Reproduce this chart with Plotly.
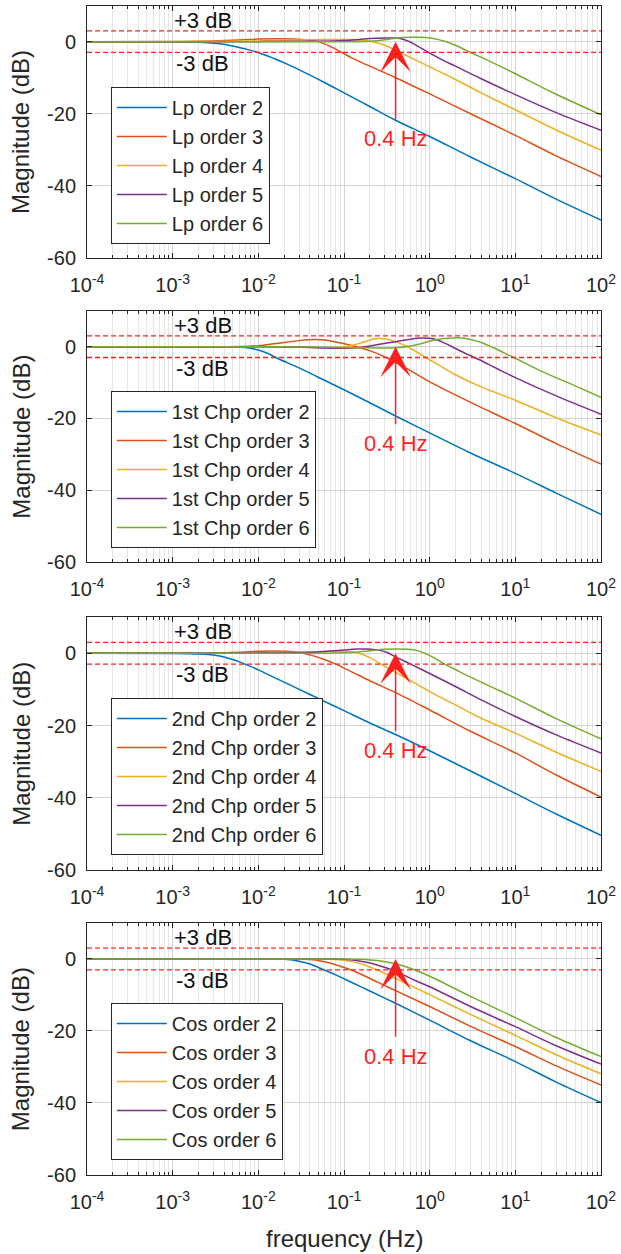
import math
import plotly.graph_objects as go
from plotly.subplots import make_subplots

# ---------------- data ----------------
ORDERS = [2, 3, 4, 5, 6]
PANEL_NAMES = ["Lp", "1st Chp", "2nd Chp", "Cos"]
COLORS = ["#0072BD", "#D95319", "#EDB120", "#7E2F8E", "#77AC30"]

XTICK_HZ = [1e-4, 1e-3, 1e-2, 1e-1, 1e0, 1e1, 1e2]
XTICK_TEXT = ["10<sup>-4</sup>", "10<sup>-3</sup>", "10<sup>-2</sup>", "10<sup>-1</sup>",
              "10<sup>0</sup>", "10<sup>1</sup>", "10<sup>2</sup>"]
YTICK_DB = [-60, -40, -20, 0]
YTICK_TEXT = ["-60", "-40", "-20", "0"]
BAND_DB = [3, -3]
BAND_TEXT = ["+3 dB", "-3 dB"]
BAND_TEXT_DB = [6, -6]
BAND_TEXT_HZ = 0.00223
ARROW_HZ = 0.4
ARROW_FROM_DB = -22
ARROW_TO_DB = 0
ARROW_TEXT = "0.4 Hz"
ARROW_TEXT_DB = -27

# Panel 1: Lp
lp2_hz = [1e-4, 1e-3, 2e-3, 3.5e-3, 5e-3, 7e-3, 1e-2, 1.5e-2, 2.2e-2, 3.5e-2, 6e-2, 1e-1, 2e-1, 4e-1, 1, 3, 10, 30, 100]
lp2_db = [0, -0.06, -0.2, -0.6, -1.2, -2.0, -3.0, -4.6, -6.3, -8.6, -11.4, -14.2, -18.0, -21.8, -26.3, -32.0, -38.0, -43.7, -49.5]
lp3_hz = [1e-4, 1e-3, 3e-3, 6e-3, 1e-2, 1.6e-2, 2.5e-2, 3.5e-2, 5e-2, 7e-2, 9.4e-2, 1.3e-1, 2e-1, 4e-1, 1, 3, 10, 30, 100]
lp3_db = [0, 0.05, 0.2, 0.45, 0.7, 0.8, 0.75, 0.5, 0.0, -1.4, -3.0, -4.8, -6.8, -10.0, -14.5, -20.0, -26.0, -31.7, -37.4]
lp4_hz = [1e-4, 3e-3, 1e-2, 3e-2, 6e-2, 1e-1, 1.5e-1, 2e-1, 3e-1, 4.5e-1, 7e-1, 1, 2, 4, 10, 30, 100]
lp4_db = [0, 0.05, 0.2, 0.45, 0.6, 0.6, 0.45, 0.1, -1.0, -3.0, -5.2, -7.0, -10.5, -14.2, -18.9, -24.5, -30.1]
lp5_hz = [1e-4, 1e-2, 5e-2, 1e-1, 1.5e-1, 2e-1, 3e-1, 4e-1, 5e-1, 6.5e-1, 1, 1.5, 2, 4, 10, 30, 100]
lp5_db = [0, 0.0, 0.1, 0.3, 0.6, 0.85, 1.0, 1.0, 0.6, -0.6, -3.2, -5.4, -6.8, -10.3, -14.7, -19.7, -24.6]
lp6_hz = [1e-4, 1e-2, 5e-2, 1e-1, 2e-1, 3e-1, 4e-1, 6e-1, 8e-1, 1.1, 1.5, 2, 3, 5, 10, 30, 100]
lp6_db = [0, 0, 0, -0.05, 0.1, 0.5, 0.95, 1.2, 1.2, 0.9, 0.1, -1.0, -3.0, -5.4, -8.9, -14.6, -20.3]

# Panel 2: 1st Chp
c1o2_hz = [1e-4, 2e-3, 5e-3, 7e-3, 1e-2, 1.3e-2, 1.6e-2, 2.2e-2, 3e-2, 5e-2, 1e-1, 2e-1, 4e-1, 1, 3, 10, 30, 100]
c1o2_db = [0, 0, -0.05, -0.2, -0.9, -1.9, -3.0, -4.5, -5.9, -8.5, -12.0, -15.6, -19.3, -24.0, -29.6, -35.3, -40.8, -46.7]
c1o3_hz = [1e-4, 3e-3, 6e-3, 1e-2, 1.5e-2, 2e-2, 3e-2, 4.5e-2, 6e-2, 8e-2, 1.1e-1, 1.4e-1, 2e-1, 3.1e-1, 5e-1, 1, 3, 10, 30, 100]
c1o3_db = [0, 0, 0.05, 0.3, 0.8, 1.2, 1.7, 2.0, 1.85, 1.3, 0.6, 0.0, -1.1, -3.0, -5.6, -9.8, -15.5, -21.4, -27.0, -32.7]
c1o4_hz = [1e-4, 1e-2, 3e-2, 6e-2, 1e-1, 1.3e-1, 1.7e-1, 2.3e-1, 3.2e-1, 4.2e-1, 5.5e-1, 7e-1, 9e-1, 1.3, 2, 4, 10, 30, 100]
c1o4_db = [0, 0, -0.15, -0.3, -0.05, 0.5, 1.3, 2.2, 2.1, 1.2, 0.0, -1.4, -3.0, -5.2, -7.8, -11.2, -14.9, -19.8, -24.6]
c1o5_hz = [1e-4, 1e-2, 3e-2, 6e-2, 1e-1, 1.4e-1, 1.75e-1, 2.5e-1, 4e-1, 6e-1, 8e-1, 1.1, 1.5, 2, 2.8, 3.7, 6, 10, 30, 100]
c1o5_db = [0, 0, -0.1, -0.35, -0.45, -0.3, 0.0, 0.6, 1.4, 2.1, 2.4, 2.2, 1.0, -0.5, -2.2, -3.5, -6.0, -8.6, -13.7, -18.8]
c1o6_hz = [1e-4, 1e-2, 5e-2, 1e-1, 2e-1, 4e-1, 6e-1, 8e-1, 1.1, 1.5, 2.2, 3, 4, 5.6, 7.5, 9.6, 20, 50, 100]
c1o6_db = [0, 0, -0.1, -0.2, -0.3, -0.3, 0.2, 0.9, 1.8, 2.3, 2.5, 2.0, 1.2, -0.3, -1.8, -3.0, -6.8, -10.9, -14.1]

# Panel 3: 2nd Chp
c2o2_hz = [1e-4, 1e-3, 2e-3, 3e-3, 4.5e-3, 7e-3, 1e-2, 1.5e-2, 2e-2, 3e-2, 5e-2, 1e-1, 2e-1, 4e-1, 1, 3, 10, 30, 100]
c2o2_db = [0, -0.05, -0.2, -0.5, -1.4, -3.0, -4.6, -6.6, -8.0, -10.0, -12.5, -15.9, -19.3, -22.5, -27.0, -32.6, -38.8, -44.5, -50.4]
c2o3_hz = [1e-4, 3e-3, 6e-3, 1e-2, 1.5e-2, 2.2e-2, 3e-2, 4.5e-2, 6e-2, 8e-2, 1.2e-1, 2e-1, 4e-1, 1, 3, 10, 30, 100]
c2o3_db = [0, 0.1, 0.3, 0.55, 0.65, 0.55, 0.2, -0.8, -1.8, -3.0, -5.0, -7.6, -10.9, -15.7, -21.6, -27.6, -33.7, -39.8]
c2o4_hz = [1e-4, 1e-2, 3e-2, 6e-2, 1e-1, 1.3e-1, 1.6e-1, 2e-1, 2.7e-1, 4e-1, 6e-1, 1, 2, 4, 10, 30, 100]
c2o4_db = [0, 0.1, 0.3, 0.5, 0.5, 0.3, -0.2, -1.2, -3.0, -5.3, -7.6, -10.6, -14.3, -18.0, -22.1, -27.4, -32.7]
c2o5_hz = [1e-4, 1e-2, 3e-2, 6e-2, 1e-1, 1.4e-1, 1.9e-1, 2.5e-1, 3.2e-1, 4e-1, 6e-1, 1, 2, 4, 10, 30, 100]
c2o5_db = [0, 0.05, 0.2, 0.5, 0.9, 1.15, 1.2, 0.9, 0.2, -1.0, -3.0, -5.6, -9.2, -12.9, -17.5, -22.6, -27.6]
c2o6_hz = [1e-4, 3e-2, 8e-2, 1.3e-1, 2e-1, 3e-1, 4e-1, 5.5e-1, 7e-1, 9e-1, 1.2, 1.5, 2, 3, 5, 10, 30, 100]
c2o6_db = [0, 0, 0.05, 0.3, 0.7, 1.1, 1.2, 1.1, 0.8, -0.1, -1.6, -3.0, -4.5, -6.6, -9.1, -12.4, -18.1, -23.7]

# Panel 4: Cos
cos2_hz = [1e-4, 1e-2, 2e-2, 2.8e-2, 4e-2, 5.8e-2, 8e-2, 1.2e-1, 2e-1, 4e-1, 1, 3, 10, 30, 100]
cos2_db = [0, 0, -0.1, -0.5, -1.4, -3.0, -4.4, -6.4, -8.9, -12.3, -17.0, -22.7, -28.5, -34.2, -39.9]
cos3_hz = [1e-4, 2e-2, 3.5e-2, 5e-2, 7e-2, 9e-2, 1.2e-1, 1.7e-1, 2.5e-1, 4e-1, 1, 3, 10, 30, 100]
cos3_db = [0, 0, -0.1, -0.4, -1.2, -2.0, -3.0, -4.6, -6.5, -8.8, -13.2, -18.7, -24.3, -29.7, -35.0]
cos4_hz = [1e-4, 4e-2, 7e-2, 1e-1, 1.3e-1, 1.7e-1, 2.4e-1, 3.2e-1, 4e-1, 6e-1, 1, 3, 10, 30, 100]
cos4_db = [0, 0, -0.1, -0.35, -0.8, -1.6, -3.0, -4.3, -5.4, -7.4, -9.9, -15.4, -21.2, -26.6, -31.9]
cos5_hz = [1e-4, 6e-2, 1e-1, 1.4e-1, 1.9e-1, 2.6e-1, 3.6e-1, 5e-1, 7e-1, 1, 3, 10, 30, 100]
cos5_db = [0, 0, -0.1, -0.4, -1.0, -1.9, -3.0, -4.5, -6.1, -7.7, -13.2, -18.8, -24.1, -29.2]
cos6_hz = [1e-4, 1e-1, 1.5e-1, 2e-1, 2.8e-1, 4e-1, 5.2e-1, 6.6e-1, 1, 1.5, 3, 10, 30, 100]
cos6_db = [0, 0, -0.1, -0.25, -0.6, -1.3, -2.1, -3.0, -4.8, -6.8, -10.4, -16.3, -21.8, -27.1]

PANELS = [
    [(lp2_hz, lp2_db), (lp3_hz, lp3_db), (lp4_hz, lp4_db), (lp5_hz, lp5_db), (lp6_hz, lp6_db)],
    [(c1o2_hz, c1o2_db), (c1o3_hz, c1o3_db), (c1o4_hz, c1o4_db), (c1o5_hz, c1o5_db), (c1o6_hz, c1o6_db)],
    [(c2o2_hz, c2o2_db), (c2o3_hz, c2o3_db), (c2o4_hz, c2o4_db), (c2o5_hz, c2o5_db), (c2o6_hz, c2o6_db)],
    [(cos2_hz, cos2_db), (cos3_hz, cos3_db), (cos4_hz, cos4_db), (cos5_hz, cos5_db), (cos6_hz, cos6_db)],
]

# ---------------- layout constants ----------------
W, H = 621, 1254
ML, MR, MT, MB = 87, 17, 5, 79
PLOT_H = H - MT - MB
Y_DOMAINS = [[0.7838, 0.9995], [0.5239, 0.7386], [0.2607, 0.4768], [0.0, 0.2154]]
LEGEND_TOP = [0.9299, 0.6701, 0.4077, 0.1470]
LEGEND_X = 0.0464
FONT = "Liberation Sans, Arial, sans-serif"
TXT = "#262626"
RED = "#ff1f1f"

fig = make_subplots(rows=4, cols=1)

for p, series in enumerate(PANELS):
    leg = "legend" if p == 0 else f"legend{p + 1}"
    for k, (hz, db) in enumerate(series):
        fig.add_trace(go.Scatter(
            x=hz, y=db, mode="lines",
            name=f"{PANEL_NAMES[p]} order {ORDERS[k]}",
            line=dict(color=COLORS[k], width=1.5, shape="spline", smoothing=0.9),
            legend=leg, hoverinfo="skip"), row=p + 1, col=1)

layout = dict(
    width=W, height=H,
    margin=dict(l=ML, r=MR, t=MT, b=MB),
    paper_bgcolor="white", plot_bgcolor="white",
    font=dict(family=FONT, color=TXT, size=20),
    shapes=[], annotations=[],
)

for p in range(4):
    xa = "xaxis" if p == 0 else f"xaxis{p + 1}"
    ya = "yaxis" if p == 0 else f"yaxis{p + 1}"
    xr = "x" if p == 0 else f"x{p + 1}"
    yr = "y" if p == 0 else f"y{p + 1}"
    layout[xa] = dict(
        type="log", range=[math.log10(XTICK_HZ[0]), math.log10(XTICK_HZ[-1])],
        tickvals=XTICK_HZ, ticktext=XTICK_TEXT, ticks="inside", ticklen=5,
        tickcolor=TXT, showline=True, linecolor=TXT, linewidth=1, mirror="ticks",
        showgrid=True, gridcolor="#d4d4d4", gridwidth=1,
        minor=dict(dtick="D1", showgrid=True, gridcolor="#e6e6e6", gridwidth=1,
                   ticks="inside", ticklen=3, tickcolor=TXT),
        tickfont=dict(size=20, color=TXT), ticklabelstandoff=9,
        domain=[0, 1], anchor=yr, zeroline=False,
    )
    layout[ya] = dict(
        range=[-60, 10], tickvals=YTICK_DB, ticktext=YTICK_TEXT,
        ticks="inside", ticklen=5, tickcolor=TXT,
        showline=True, linecolor=TXT, linewidth=1, mirror="ticks",
        showgrid=True, gridcolor="#d4d4d4", gridwidth=1, zeroline=False,
        tickfont=dict(size=20, color=TXT), ticklabelstandoff=6,
        domain=Y_DOMAINS[p], anchor=xr,
    )
    for d in BAND_DB:
        layout["shapes"].append(dict(
            type="line", xref=f"{xr} domain", yref=yr, x0=0, x1=1, y0=d, y1=d,
            line=dict(color=RED, width=1.3, dash="5px,3px")))
    for t, d in zip(BAND_TEXT, BAND_TEXT_DB):
        layout["annotations"].append(dict(
            xref=xr, yref=yr, x=math.log10(BAND_TEXT_HZ), y=d, text=t,
            showarrow=False, font=dict(size=22, color="#111111"),
            xanchor="center", yanchor="middle"))
    layout["annotations"].append(dict(
        xref=xr, yref=yr, x=math.log10(ARROW_HZ), y=ARROW_TO_DB,
        axref=xr, ayref=yr, ax=math.log10(ARROW_HZ), ay=ARROW_FROM_DB,
        text="", showarrow=True, arrowhead=3, arrowsize=3.4, arrowwidth=1.5,
        arrowcolor=RED))
    layout["annotations"].append(dict(
        xref=xr, yref=yr, x=math.log10(ARROW_HZ), y=ARROW_TEXT_DB, text=ARROW_TEXT,
        showarrow=False, font=dict(size=22, color=RED),
        xanchor="center", yanchor="middle"))
    ymid = sum(Y_DOMAINS[p]) / 2
    layout["annotations"].append(dict(
        xref="paper", yref="paper", x=-0.128, y=ymid, text="Magnitude (dB)",
        textangle=-90, showarrow=False, font=dict(size=24, color=TXT),
        xanchor="center", yanchor="middle"))
    lg = "legend" if p == 0 else f"legend{p + 1}"
    layout[lg] = dict(
        x=LEGEND_X, y=LEGEND_TOP[p], xanchor="left", yanchor="top",
        xref="paper", yref="paper",
        bgcolor="white", bordercolor=TXT, borderwidth=1,
        font=dict(size=20, color=TXT), itemwidth=50,
        tracegroupgap=0)

layout["annotations"].append(dict(
    xref="paper", yref="paper", x=0.5, y=(H - MB - 1238) / PLOT_H,
    text="frequency (Hz)", showarrow=False, font=dict(size=24, color=TXT),
    xanchor="center", yanchor="middle"))

fig.update_layout(**layout)
fig.write_html("out.html", config={"displayModeBar": False},
               post_script="document.body.style.margin='0px';")
